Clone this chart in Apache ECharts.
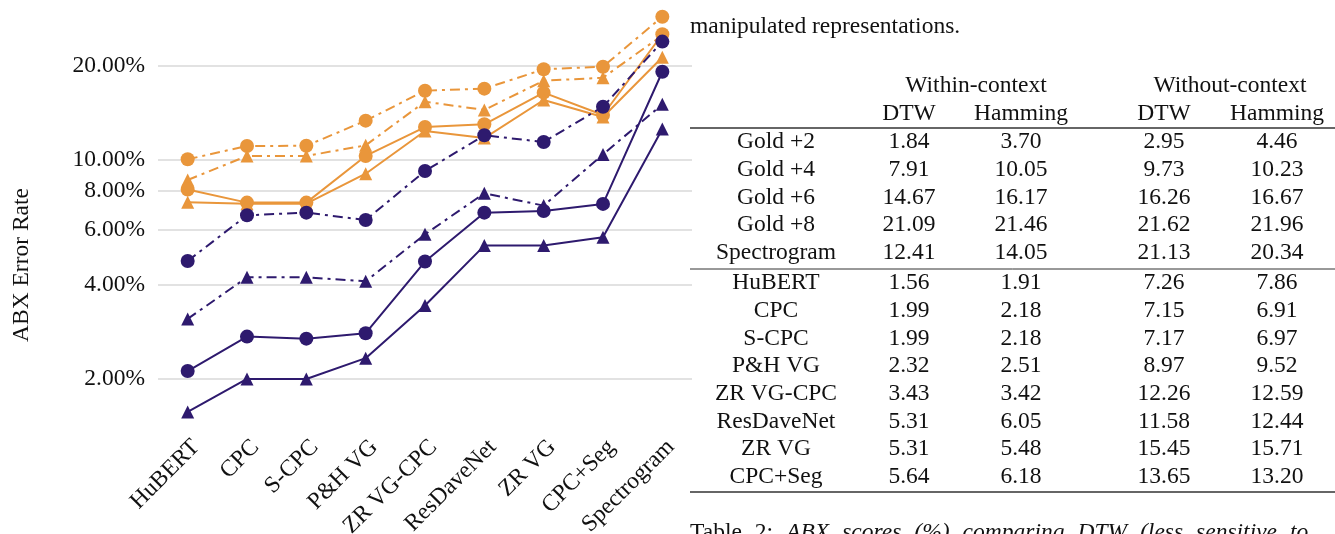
<!DOCTYPE html>
<html><head><meta charset="utf-8">
<script src="https://cdn.jsdelivr.net/npm/echarts@6/dist/echarts.min.js"></script>
<style>html,body{margin:0;padding:0;background:#fff;}#c{width:1335px;height:534px;}</style>
</head><body><div id="c"></div>
<script>
// ---- chart data ----
const categories = ['HuBERT','CPC','S-CPC','P&H VG','ZR VG-CPC','ResDaveNet','ZR VG','CPC+Seg','Spectrogram'];
const yTickValues = [2, 4, 6, 8, 10, 20];
const orangeDashCircle   = [10.05, 11.08, 11.10, 13.35, 16.64, 16.89, 19.47, 19.85, 28.66];
const orangeDashTriangle = [8.63, 10.30, 10.30, 11.14, 15.35, 14.44, 17.91, 18.31, 25.00];
const orangeSolidCircle  = [8.05, 7.31, 7.31, 10.30, 12.74, 13.00, 16.40, 13.92, 25.20];
const orangeSolidTriangle= [7.33, 7.25, 7.25, 9.04, 12.37, 11.75, 15.54, 13.72, 21.27];
const purpleDashCircle   = [4.76, 6.66, 6.79, 6.43, 9.22, 11.99, 11.41, 14.79, 23.87];
const purpleDashTriangle = [3.11, 4.22, 4.22, 4.10, 5.79, 7.83, 7.15, 10.42, 15.05];
const purpleSolidCircle  = [2.12, 2.73, 2.69, 2.80, 4.74, 6.79, 6.87, 7.24, 19.13];
const purpleSolidTriangle= [1.57, 2.00, 2.00, 2.33, 3.43, 5.33, 5.33, 5.67, 12.56];

// ---- table data ----
const tableGroupHeaders = ['Within-context', 'Without-context'];
const tableSubHeaders = ['DTW', 'Hamming', 'DTW', 'Hamming'];
const tableLabelsTop = ['Gold +2','Gold +4','Gold +6','Gold +8','Spectrogram'];
const tableLabelsBottom = ['HuBERT','CPC','S-CPC','P&H VG','ZR VG-CPC','ResDaveNet','ZR VG','CPC+Seg'];
const withinDTW    = ['1.84','7.91','14.67','21.09','12.41','1.56','1.99','1.99','2.32','3.43','5.31','5.31','5.64'];
const withinHam    = ['3.70','10.05','16.17','21.46','14.05','1.91','2.18','2.18','2.51','3.42','6.05','5.48','6.18'];
const withoutDTW   = ['2.95','9.73','16.26','21.62','21.13','7.26','7.15','7.17','8.97','12.26','11.58','15.45','13.65'];
const withoutHam   = ['4.46','10.23','16.67','21.96','20.34','7.86','6.91','6.97','9.52','12.59','12.44','15.71','13.20'];
const leadText = 'manipulated representations.';
const captionLeadWords = ['Table', '2:'];
const captionItalicWords = ['ABX', 'scores', '(%)', 'comparing', 'DTW', '(less', 'sensitive', 'to'];

const ORANGE = '#E9963B';
const PURPLE = '#2E1A6E';
const FONT = '"Liberation Serif", "DejaVu Serif", serif';
const FS = 23.5;
const DASHDOT = [10, 5, 3, 5];

function mk(name, data, color, symbol, dashed) {
  return {
    name, type: 'line', data, symbol,
    symbolSize: symbol === 'circle' ? 14 : 13,
    lineStyle: { color, width: 2, type: dashed ? DASHDOT : 'solid' },
    itemStyle: { color },
    emphasis: { disabled: true }
  };
}

// table graphics
const g = [];
function txt(t, x, y, align) {
  g.push({ type: 'text', silent: true, style: { text: t, x, y, font: FS + 'px ' + FONT, fill: '#111', align: align || 'center', verticalAlign: 'middle' } });
}
function rule(y, w) {
  g.push({ type: 'line', silent: true, shape: { x1: 690, y1: y, x2: 1335, y2: y }, style: { stroke: '#333', lineWidth: w } });
}
txt(leadText, 690, 27, 'left');
txt(tableGroupHeaders[0], 976, 86);
txt(tableGroupHeaders[1], 1230, 86);
const colX = [909, 1021, 1164, 1277];
tableSubHeaders.forEach((h, i) => txt(h, colX[i], 114));
rule(128, 1.5);
const labels = tableLabelsTop.concat(tableLabelsBottom);
labels.forEach((lab, i) => {
  const y = i < 5 ? 142 + 27.7 * i : 283 + 27.7 * (i - 5);
  txt(lab, 776, y);
  txt(withinDTW[i], colX[0], y);
  txt(withinHam[i], colX[1], y);
  txt(withoutDTW[i], colX[2], y);
  txt(withoutHam[i], colX[3], y);
});
rule(269, 1);
rule(492, 1.5);
// justified caption line (stretched spaces)
const capParts = [];
captionLeadWords.forEach(w => capParts.push('{a|' + w + '}', '{sp| }'));
captionItalicWords.forEach((w, i) => { capParts.push('{b|' + w + '}'); if (i < captionItalicWords.length - 1) capParts.push('{sp| }'); });
g.push({ type: 'text', silent: true, style: {
  text: capParts.join(''), x: 690, y: 533, verticalAlign: 'middle', align: 'left',
  rich: {
    a: { fontFamily: FONT, fontSize: FS, fill: '#111' },
    b: { fontFamily: FONT, fontSize: FS, fontStyle: 'italic', fill: '#111' },
    sp: { fontFamily: FONT, fontSize: FS, width: 13 }
  }
}});
// y-axis title
g.push({ type: 'text', silent: true, x: 22, y: 265, rotation: Math.PI / 2,
  style: { text: 'ABX Error Rate', x: 0, y: 0, font: FS + 'px ' + FONT, fill: '#111', align: 'center', verticalAlign: 'middle' } });

const chart = echarts.init(document.getElementById('c'), null, { renderer: 'canvas' });
chart.setOption({
  animation: false,
  backgroundColor: '#fff',
  grid: { left: 158, right: 643, top: 10.5, bottom: 115.9, containLabel: false, outerBoundsMode: 'none' },
  xAxis: {
    type: 'category', data: categories, boundaryGap: true,
    axisLine: { show: false }, axisTick: { show: false },
    axisLabel: { rotate: 45, margin: 17, verticalAlign: 'top', fontFamily: FONT, fontSize: FS, color: '#111', interval: 0 }
  },
  yAxis: {
    type: 'log', logBase: 10, min: 1.5, max: 30,
    axisLine: { show: false },
    axisTick: { show: false, customValues: yTickValues },
    axisLabel: { customValues: yTickValues, fontFamily: FONT, fontSize: FS, color: '#111', margin: 13,
      formatter: v => Number(v).toFixed(2) + '%' },
    splitLine: { show: true, lineStyle: { color: '#d9d9d9', width: 1.5 } },
    minorSplitLine: { show: false }
  },
  graphic: g,
  series: [
    mk('Orange dash-dot circle', orangeDashCircle, ORANGE, 'circle', true),
    mk('Orange dash-dot triangle', orangeDashTriangle, ORANGE, 'triangle', true),
    mk('Orange solid circle', orangeSolidCircle, ORANGE, 'circle', false),
    mk('Orange solid triangle', orangeSolidTriangle, ORANGE, 'triangle', false),
    mk('Purple dash-dot circle', purpleDashCircle, PURPLE, 'circle', true),
    mk('Purple dash-dot triangle', purpleDashTriangle, PURPLE, 'triangle', true),
    mk('Purple solid circle', purpleSolidCircle, PURPLE, 'circle', false),
    mk('Purple solid triangle', purpleSolidTriangle, PURPLE, 'triangle', false)
  ]
});
</script>
</body></html>
